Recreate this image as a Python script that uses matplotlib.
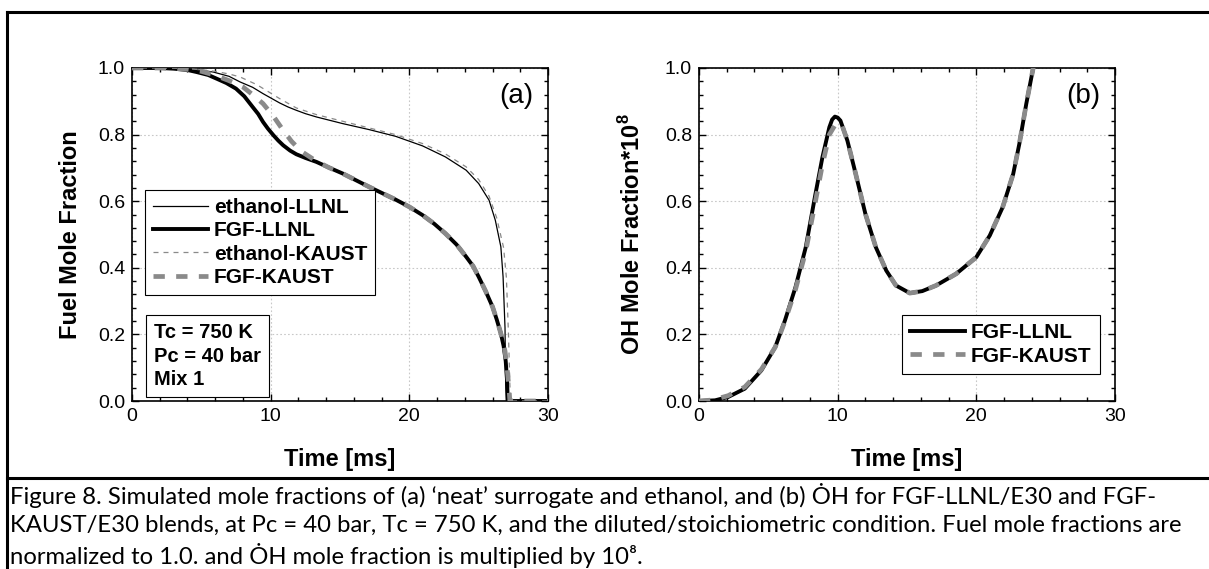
import matplotlib
matplotlib.use("Agg")
import matplotlib.pyplot as plt
from matplotlib.ticker import MultipleLocator
from matplotlib.lines import Line2D

# ---- panel (a): fuel mole fraction ----
t_eth_llnl = [0, 2, 3.5, 5, 5.85, 7, 7.8, 8.7, 9.45, 10.05, 10.65, 11.25, 11.85, 12.5, 13.3,
              15.2, 17.1, 19.0, 20.96, 22.6, 24.1, 25.0, 25.75, 26.2, 26.6, 26.76, 26.9,
              26.95, 27.0, 30]
v_eth_llnl = [1.0, 1.0, 0.998, 0.993, 0.988, 0.975, 0.958, 0.942, 0.923, 0.909, 0.895, 0.883,
              0.873, 0.863, 0.853, 0.833, 0.815, 0.795, 0.766, 0.733, 0.693, 0.653, 0.603,
              0.543, 0.463, 0.373, 0.22, 0.05, 0, 0]

t_eth_kaust = [0, 2, 3.5, 5, 6, 7, 7.8, 9, 10.65, 11.85, 13.3, 15.2, 17.1, 19, 20.96, 22.6,
               24.1, 25, 25.75, 26.3, 26.8, 27.0, 27.15, 27.25, 27.3, 30]
v_eth_kaust = [1, 1, 0.999, 0.995, 0.99, 0.982, 0.973, 0.95, 0.908, 0.88, 0.86, 0.84, 0.82,
               0.80, 0.773, 0.742, 0.703, 0.665, 0.615, 0.55, 0.46, 0.37, 0.2, 0.05, 0, 0]

t_fgf_llnl = [0, 2, 3, 4, 4.65, 5.5, 6.1, 6.8, 7.5, 8.1, 8.7, 9.1, 9.45, 9.8, 10.2, 10.55, 10.9,
              11.4, 11.85, 12.5, 13.3, 14.2, 15.2, 16.1, 17.1, 18, 19, 20, 20.96, 21.8, 22.6,
              23.4, 24.1, 24.6, 25, 25.5, 26.0, 26.3, 26.6, 26.8, 26.95, 27.05, 27.1, 30]
v_fgf_llnl = [1, 1, 0.998, 0.994, 0.988, 0.979, 0.968, 0.955, 0.938, 0.915, 0.883, 0.862, 0.838,
              0.818, 0.798, 0.782, 0.768, 0.752, 0.741, 0.73, 0.718, 0.701, 0.683, 0.664, 0.643,
              0.625, 0.605, 0.583, 0.558, 0.532, 0.503, 0.47, 0.433, 0.405, 0.373, 0.33, 0.283,
              0.245, 0.203, 0.165, 0.12, 0.06, 0, 0]

t_fgf_kaust = [0, 2, 3, 4, 5, 6, 7, 8, 8.7, 9.45, 10.2, 10.9, 11.5, 12.2, 13.3, 14.2, 15.2, 16.1,
               17.1, 18, 19, 20, 20.96, 21.8, 22.6, 23.4, 24.1, 24.6, 25, 25.5, 26.0, 26.3,
               26.6, 26.9, 27.05, 27.2, 27.25, 30]
v_fgf_kaust = [1, 1, 0.999, 0.996, 0.99, 0.978, 0.962, 0.943, 0.92, 0.893, 0.855, 0.813, 0.78,
               0.75, 0.72, 0.701, 0.683, 0.664, 0.643, 0.625, 0.605, 0.583, 0.558, 0.532, 0.503,
               0.47, 0.433, 0.405, 0.373, 0.33, 0.283, 0.245, 0.203, 0.15, 0.1, 0.03, 0, 0]

# ---- panel (b): OH mole fraction * 1e8 ----
t_oh_llnl = [0, 1.16, 2.1, 3.3, 4.5, 5.5, 6.2, 6.96, 7.7, 8.4, 8.9, 9.4, 9.6, 9.8, 10.0, 10.2,
             10.7, 11.3, 12.0, 12.75, 13.5, 14.2, 15.2, 16.1, 17.1, 18.55, 20.0, 20.97, 21.9,
             22.66, 23.1, 23.6, 24.1, 24.6]
v_oh_llnl = [0, 0.002, 0.012, 0.037, 0.092, 0.162, 0.242, 0.342, 0.462, 0.622, 0.732, 0.822,
             0.845, 0.854, 0.851, 0.842, 0.782, 0.682, 0.562, 0.462, 0.392, 0.347, 0.324, 0.330,
             0.347, 0.382, 0.432, 0.497, 0.582, 0.682, 0.772, 0.892, 1.0, 1.12]

t_oh_kaust = [0, 1.0, 2.1, 3.3, 4.5, 5.5, 6.2, 6.96, 7.7, 8.4, 8.9, 9.4, 9.9, 10.3, 10.7, 11.3,
              12.0, 12.75, 13.5, 14.2, 15.2, 16.1, 17.1, 18.55, 20.0, 20.97, 21.9, 22.66, 23.1,
              23.6, 24.1, 24.6]
v_oh_kaust = [0, 0.003, 0.016, 0.042, 0.095, 0.162, 0.24, 0.335, 0.45, 0.6, 0.71, 0.8, 0.835,
              0.83, 0.782, 0.682, 0.562, 0.462, 0.392, 0.347, 0.324, 0.330, 0.347, 0.382, 0.432,
              0.497, 0.582, 0.682, 0.772, 0.892, 1.0, 1.12]

caption = [
    "Figure 8. Simulated mole fractions of (a) \u2018neat\u2019 surrogate and ethanol, and (b) \u022eH for FGF-LLNL/E30 and FGF-",
    "KAUST/E30 blends, at Pc = 40 bar, Tc = 750 K, and the diluted/stoichiometric condition. Fuel mole fractions are",
    "normalized to 1.0. and \u022eH mole fraction is multiplied by 10\u2078.",
]

plt.rcParams['font.family'] = ['Liberation Sans', 'DejaVu Sans']
plt.rcParams['mathtext.fontset'] = 'custom'
plt.rcParams['mathtext.rm'] = 'Liberation Sans'
plt.rcParams['mathtext.bf'] = 'Liberation Sans:bold'

W, H = 1209, 569
fig = plt.figure(figsize=(W / 100, H / 100), dpi=100)

GRAY = '#8a8a8a'
LAB = 17
TICK = 14
LEG = 15


def style_axes(ax):
    ax.set_xlim(0, 30)
    ax.set_ylim(0, 1.0)
    ax.xaxis.set_major_locator(MultipleLocator(10))
    ax.xaxis.set_minor_locator(MultipleLocator(2))
    ax.yaxis.set_major_locator(MultipleLocator(0.2))
    ax.yaxis.set_minor_locator(MultipleLocator(0.04))
    ax.yaxis.set_major_formatter(plt.FormatStrFormatter('%.1f'))
    ax.tick_params(which='both', direction='in', top=True, right=True, labelsize=TICK,
                   width=1.0, pad=5)
    ax.tick_params(which='major', length=5)
    ax.tick_params(which='minor', length=3)
    ax.grid(True, which='major', linestyle=(0, (1.5, 2)), color='#c8c8c8', linewidth=0.8)
    for s in ax.spines.values():
        s.set_linewidth(1.2)
    ax.set_xlabel('Time [ms]', fontsize=LAB, fontweight='bold')
    ax.xaxis.set_label_coords(0.5, -0.14)


axw = 416 / W
axh = 333 / H
ax1 = fig.add_axes([132 / W, 1 - 401 / H, axw, axh])
ax2 = fig.add_axes([699 / W, 1 - 401 / H, axw, axh])

# panel (a)
ax1.plot(t_eth_llnl, v_eth_llnl, color='black', lw=0.9, label='ethanol-LLNL', zorder=3)
ax1.plot(t_fgf_llnl, v_fgf_llnl, color='black', lw=2.8, label='FGF-LLNL', zorder=3)
ax1.plot(t_eth_kaust, v_eth_kaust, color=GRAY, lw=0.9, dashes=(4, 4), label='ethanol-KAUST',
         zorder=4)
ax1.plot(t_fgf_kaust, v_fgf_kaust, color=GRAY, lw=3.4, dashes=(2.4, 2.4), label='FGF-KAUST',
         zorder=4)
style_axes(ax1)
ax1.set_ylabel('Fuel Mole Fraction', fontsize=LAB, fontweight='bold')
ax1.yaxis.set_label_coords(-0.12, 0.5)
ax1.text(0.925, 0.915, '(a)', transform=ax1.transAxes, fontsize=20, ha='center', va='center')

h = [Line2D([], [], color='black', lw=0.9),
     Line2D([], [], color='black', lw=2.8),
     Line2D([], [], color=GRAY, lw=0.9, dashes=(4, 4)),
     Line2D([], [], color=GRAY, lw=3.4, dashes=(2.4, 2.4))]
leg1 = ax1.legend(h, ['ethanol-LLNL', 'FGF-LLNL', 'ethanol-KAUST', 'FGF-KAUST'],
                  loc='upper left', bbox_to_anchor=((145 - 132) / 416, (401 - 190) / 333),
                  prop={'weight': 'bold', 'size': LEG}, frameon=True, fancybox=False,
                  edgecolor='black', framealpha=1, borderaxespad=0, handlelength=2.6,
                  handletextpad=0.3, labelspacing=0.2, borderpad=0.4)
leg1.get_frame().set_linewidth(0.8)

ax1.text((145 - 132) / 416 + 0.022, (401 - 315) / 333 - 0.025,
         'Tc = 750 K\nPc = 40 bar\nMix 1', transform=ax1.transAxes,
         fontsize=14.5, fontweight='bold', va='top', ha='left', linespacing=1.3,
         bbox=dict(boxstyle='square,pad=0.4', facecolor='white', edgecolor='black', lw=0.8),
         zorder=5)

# panel (b)
ax2.plot(t_oh_llnl, v_oh_llnl, color='black', lw=2.8, label='FGF-LLNL', zorder=3)
ax2.plot(t_oh_kaust, v_oh_kaust, color=GRAY, lw=3.4, dashes=(2.4, 2.4), label='FGF-KAUST',
         zorder=4)
style_axes(ax2)
ax2.set_ylabel(r'OH Mole Fraction*10$^\mathbf{8}$', fontsize=LAB, fontweight='bold')
ax2.yaxis.set_label_coords(-0.13, 0.5)
ax2.text(0.925, 0.915, '(b)', transform=ax2.transAxes, fontsize=20, ha='center', va='center')
leg2 = ax2.legend(loc='upper left', bbox_to_anchor=((902 - 699) / 416, (401 - 315) / 333),
                  prop={'weight': 'bold', 'size': LEG}, frameon=True, fancybox=False,
                  edgecolor='black', framealpha=1, borderaxespad=0, handlelength=2.6,
                  handletextpad=0.3, labelspacing=0.2, borderpad=0.4)
leg2.get_frame().set_linewidth(0.8)

# frame lines of the figure box
fig.add_artist(Line2D([7 / W, 1], [1 - 12 / H, 1 - 12 / H], color='black', lw=2.2))
fig.add_artist(Line2D([7 / W, 1], [1 - 478 / H, 1 - 478 / H], color='black', lw=2.2))
fig.add_artist(Line2D([7 / W, 7 / W], [0, 1 - 12 / H], color='black', lw=2.2))

# caption
for i, line in enumerate(caption):
    fig.text(10 / W, 1 - (495 + 30 * i) / H, line, fontsize=17.2, va='center', ha='left',
             family=['Lato', 'DejaVu Sans'])

fig.savefig('out.png', dpi=100)
